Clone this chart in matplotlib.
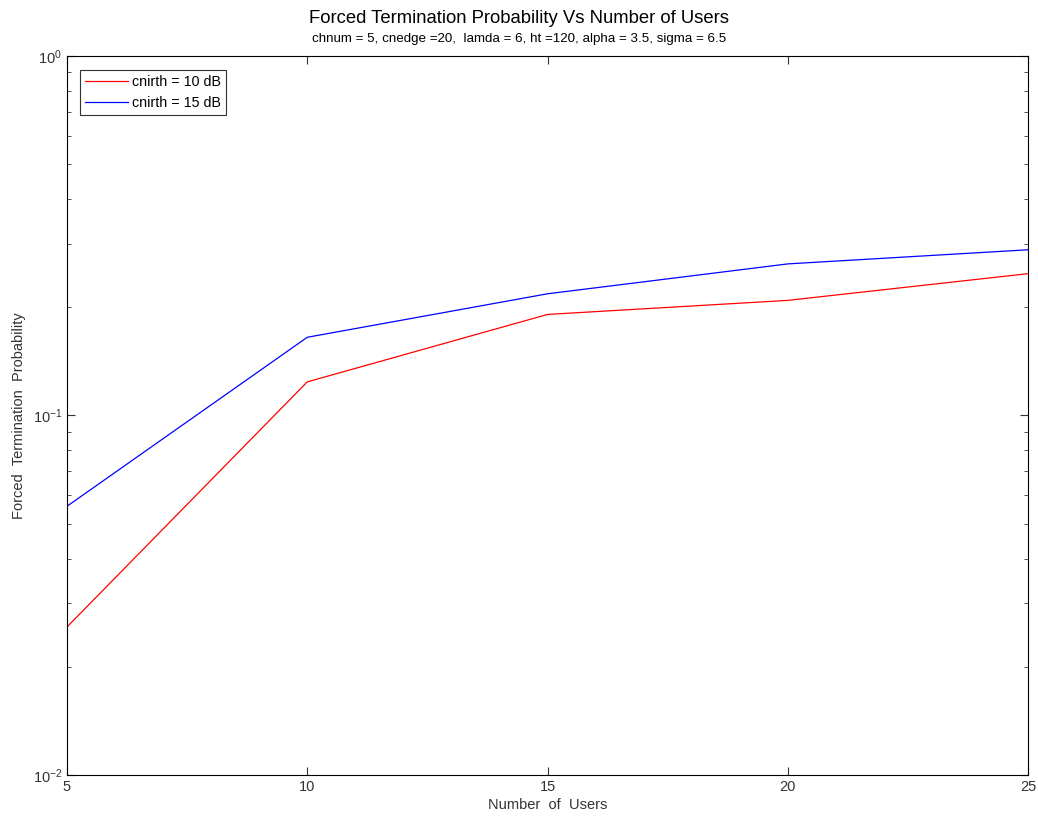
import matplotlib.pyplot as plt
from matplotlib.ticker import LogLocator, FixedLocator, NullFormatter

plt.rcParams['font.family'] = ['Liberation Sans', 'DejaVu Sans']

users = [5, 10, 15, 20, 25]
fp_10db = [0.0258, 0.124, 0.191, 0.209, 0.248]
fp_15db = [0.0559, 0.165, 0.218, 0.264, 0.289]

fig = plt.figure(figsize=(10.38, 8.19), dpi=100)
ax = fig.add_axes([0.0645, 0.0537, 0.926, 0.878])

ax.plot(users, fp_10db, color='red', lw=0.9, label='cnirth = 10 dB')
ax.plot(users, fp_15db, color='blue', lw=0.9, label='cnirth = 15 dB')

ax.set_yscale('log')
ax.set_xlim(5, 25)
ax.set_ylim(1e-2, 1)
ax.xaxis.set_major_locator(FixedLocator(users))
ax.yaxis.set_major_locator(LogLocator(base=10, numticks=5))
ax.yaxis.set_minor_locator(LogLocator(base=10, subs=range(2, 10), numticks=20))
ax.yaxis.set_minor_formatter(NullFormatter())
ax.tick_params(which='both', direction='in', top=True, right=True, labelsize=10.5, colors='#333333')
ax.tick_params(which='major', length=6)
ax.tick_params(which='minor', length=3)
for s in ax.spines.values():
    s.set_linewidth(0.8)

ax.set_xlabel('Number  of  Users', fontsize=10.5, color='#333333', labelpad=3)
ax.set_ylabel('Forced  Termination  Probability', fontsize=10.5, color='#333333', labelpad=5)

fig.text(0.5, 0.977, 'Forced Termination Probability Vs Number of Users',
         ha='center', va='center', fontsize=13.3)
fig.text(0.5, 0.952, 'chnum = 5, cnedge =20,  lamda = 6, ht =120, alpha = 3.5, sigma = 6.5',
         ha='center', va='center', fontsize=9.6)

leg = ax.legend(loc='upper left', fontsize=10.3, fancybox=False, framealpha=1,
                edgecolor='#333333', borderpad=0.35, labelspacing=0.45,
                handlelength=3.0, handletextpad=0.3, bbox_to_anchor=(0.006, 0.99))
leg.get_frame().set_linewidth(0.8)

fig.savefig('out.png', dpi=100)
